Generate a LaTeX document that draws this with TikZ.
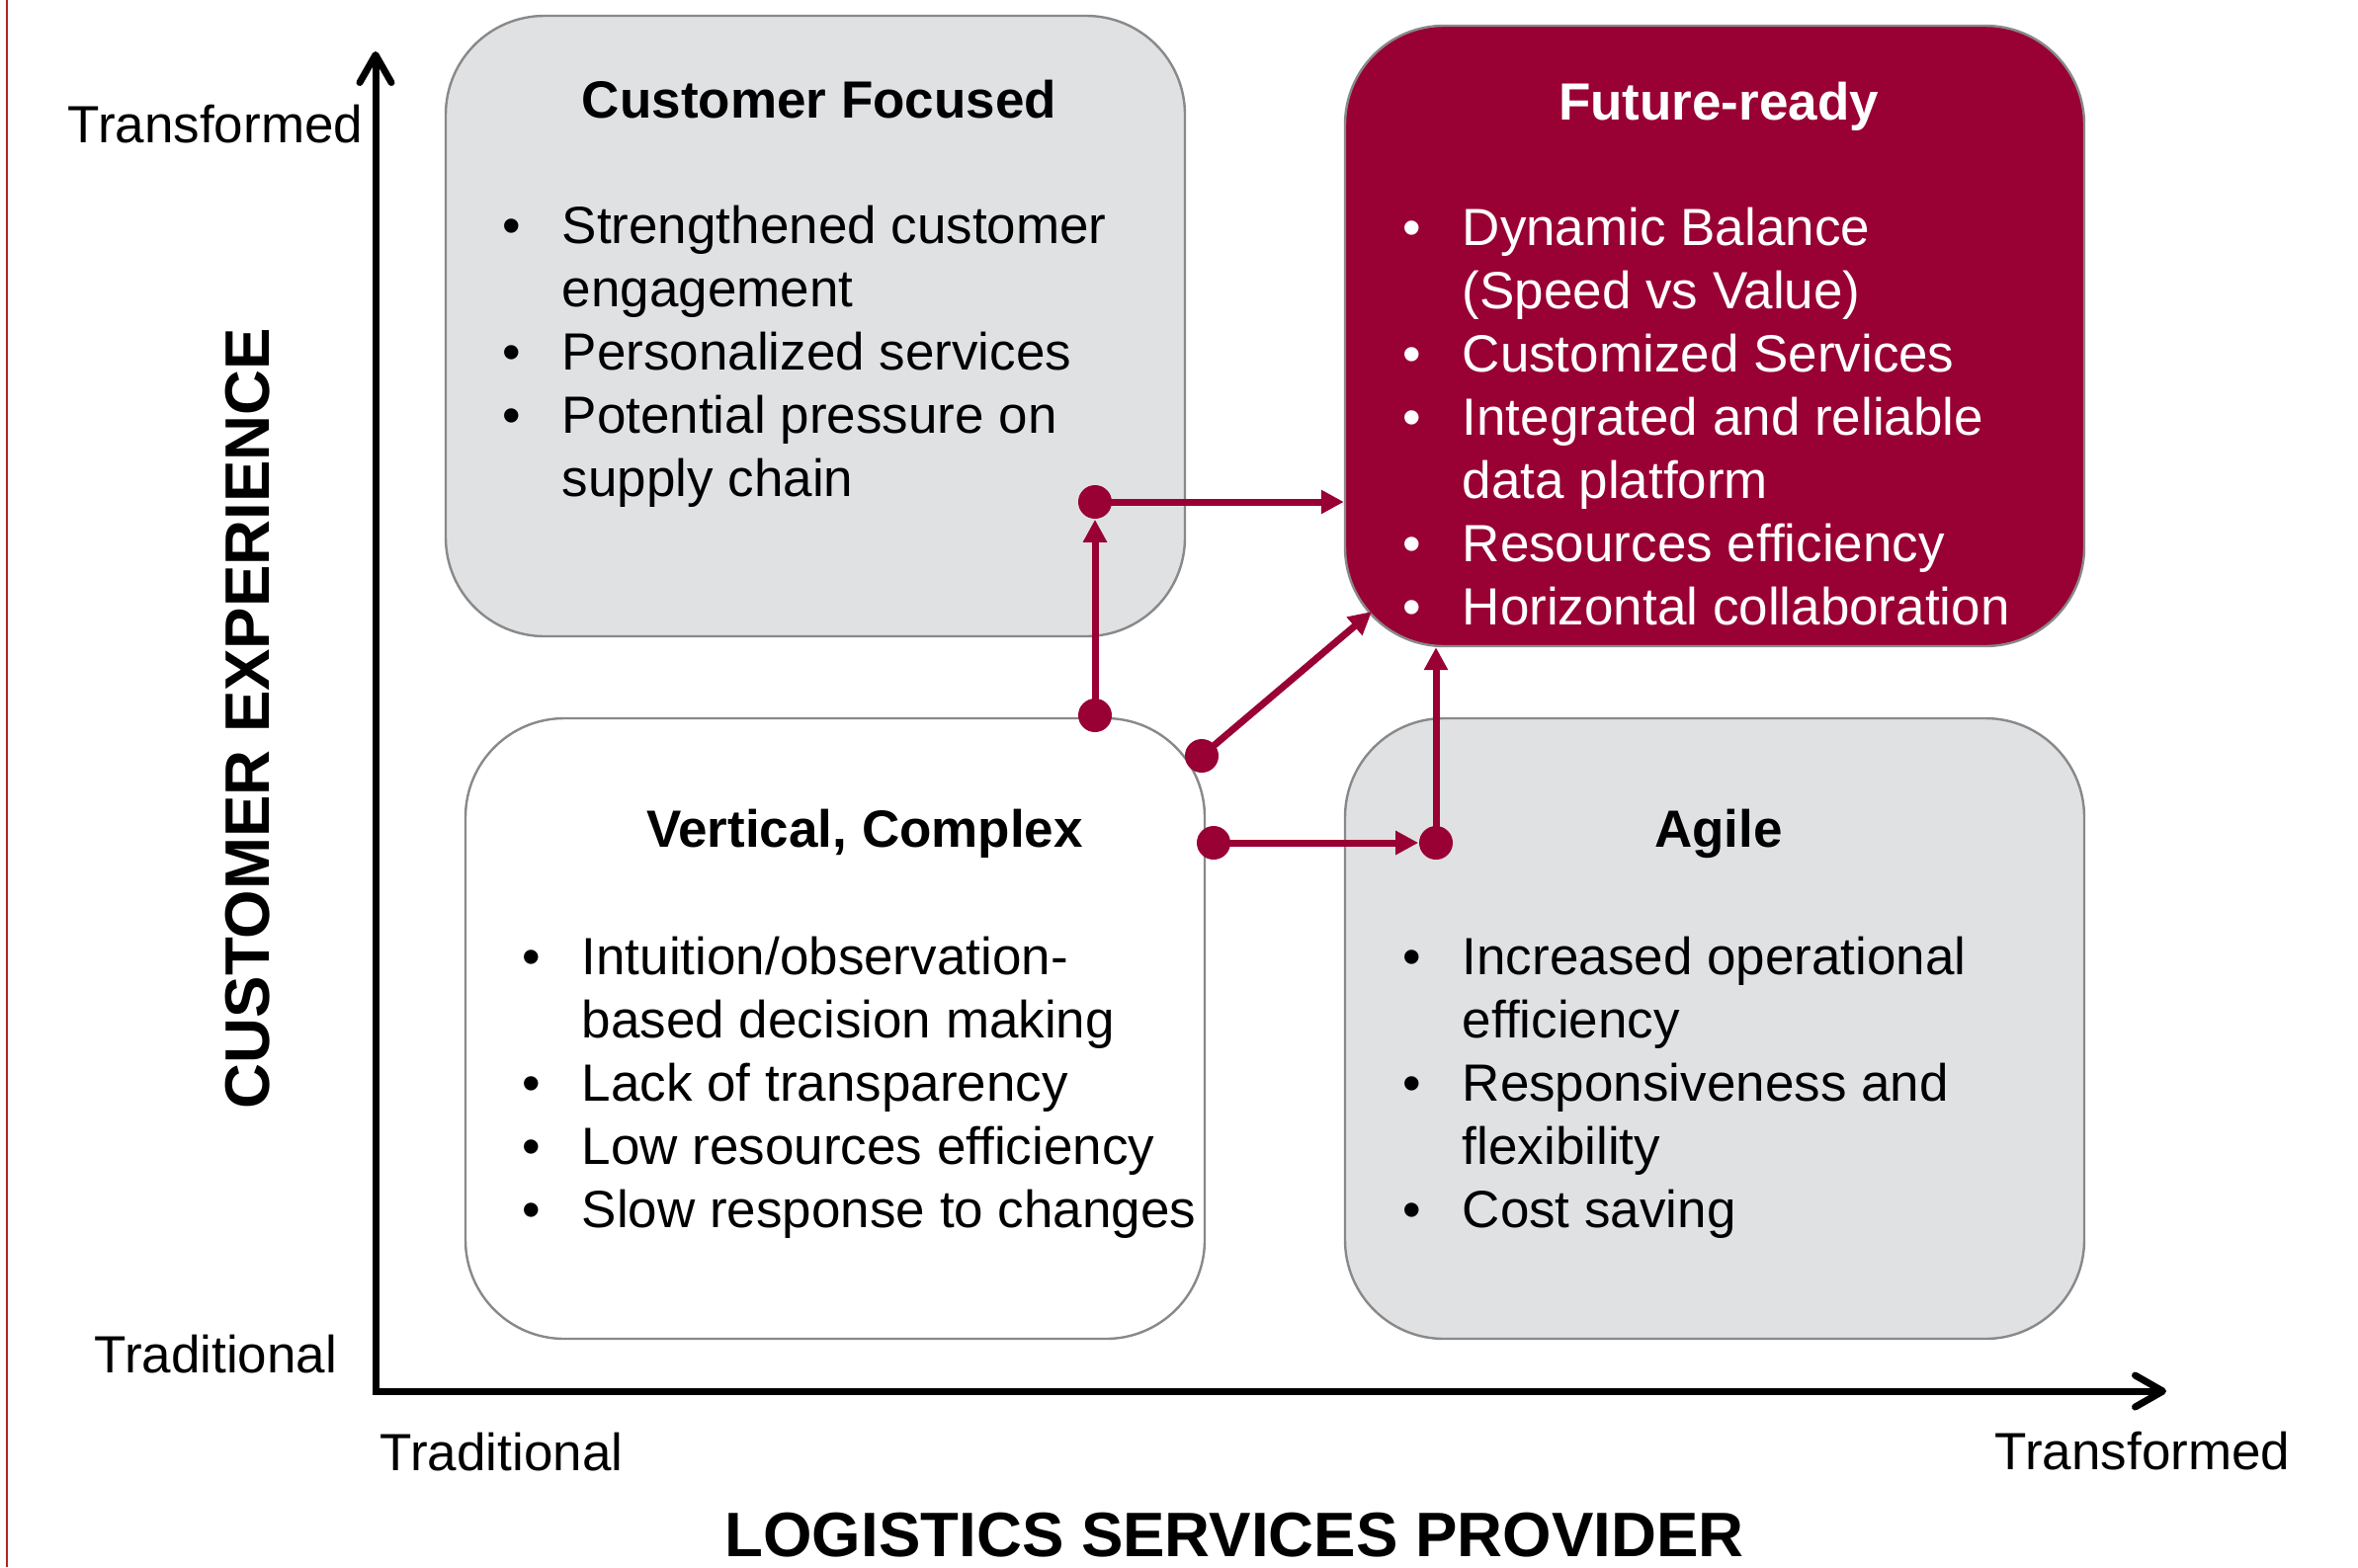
\documentclass[tikz,border=0pt]{standalone}
\usepackage{fontspec}
\setmainfont{Liberation Sans}
\usetikzlibrary{arrows.meta}
\definecolor{crim}{RGB}{153,0,51}
\definecolor{boxgray}{RGB}{224,225,227}
\definecolor{edgegray}{RGB}{137,137,137}
\definecolor{leftred}{RGB}{170,40,40}
\newcommand{\bl}{\makebox[15pt][l]{\textbullet}}
\begin{document}
\begin{tikzpicture}[x=0.25pt,y=-0.25pt,
  quad/.style={draw=edgegray, line width=0.6pt, rounded corners=25pt, inner sep=0pt,
    minimum width=187pt, minimum height=157pt},
  bodyfont/.style={font=\fontsize{13.25pt}{16pt}\selectfont},
  lbl/.style={bodyfont, inner sep=0pt},
  ttl/.style={font=\fontsize{13.25pt}{16pt}\selectfont\bfseries, inner sep=0pt, anchor=base},
  lst/.style={bodyfont, inner sep=0pt, anchor=base west},
  axtitle/.style={font=\fontsize{15.9pt}{19pt}\selectfont\bfseries, inner sep=0pt},
  axis/.style={line width=1.75pt, line join=miter,
    {Straight Barb[length=7pt,width=8pt,line cap=round,line join=round]}-{Straight Barb[length=7pt,width=8pt,line cap=round,line join=round]}},
  dot/.style={circle, fill=crim, inner sep=0pt, minimum size=8.5pt},
  conn/.style={crim, line width=1.75pt, -{Triangle[length=5.75pt,width=5.75pt]}}
]
\useasboundingbox (0,0) rectangle (2386,1586);
\fill[white] (0,0) rectangle (2386,1586);
\draw[leftred, line width=0.5pt] (7,0) -- (7,1586);

% quadrant boxes
\node[quad, fill=boxgray] (cf) at (825,330) {};
\node[quad, fill=crim] (fr) at (1735,340) {};
\node[quad, fill=white] (vc) at (845,1041) {};
\node[quad, fill=boxgray] (ag) at (1735,1041) {};

% axes
\coordinate (ytop) at (380,52);
\coordinate (O) at (380,1408);
\coordinate (xend) at (2192,1408);
\draw[axis] (ytop) -- (O) -- (xend);

% axis labels
\node[lbl, anchor=base east] (ytr) at (368,144) {Transformed};
\node[lbl, anchor=base east] (ytd) at (342,1389) {Traditional};
\node[lbl, anchor=base west] (xtd) at (384,1488) {Traditional};
\node[lbl, anchor=base west] (xtr) at (2018,1487) {Transformed};
\node[axtitle, anchor=base] (xlab) at (1249,1575) {LOGISTICS SERVICES PROVIDER};
\node[axtitle, rotate=90] (ylab) at (251,727) {CUSTOMER EXPERIENCE};

% titles
\node[ttl] (cft) at (829,119) {Customer Focused};
\node[ttl, text=white] (frt) at (1739,121) {Future-ready};
\node[ttl] (vct) at (875,857) {Vertical, Complex};
\node[ttl] (agt) at (1739,857) {Agile};

% lists
\node[lst] (cfl) at (508,246) {\begin{tabular}[t]{@{}l@{}l@{}}
\bl&Strengthened customer\\
&engagement\\
\bl&Personalized services\\
\bl&Potential pressure on\\
&supply chain
\end{tabular}};
\node[lst, text=white] (frl) at (1419,248) {\begin{tabular}[t]{@{}l@{}l@{}}
\bl&Dynamic Balance\\
&(Speed vs Value)\\
\bl&Customized Services\\
\bl&Integrated and reliable\\
&data platform\\
\bl&Resources efficiency\\
\bl&Horizontal collaboration
\end{tabular}};
\node[lst] (vcl) at (528,986) {\begin{tabular}[t]{@{}l@{}l@{}}
\bl&Intuition/observation-\\
&based decision making\\
\bl&Lack of transparency\\
\bl&Low resources efficiency\\
\bl&Slow response to changes
\end{tabular}};
\node[lst] (agl) at (1419,986) {\begin{tabular}[t]{@{}l@{}l@{}}
\bl&Increased operational\\
&efficiency\\
\bl&Responsiveness and\\
&flexibility\\
\bl&Cost saving
\end{tabular}};

% transition dots
\node[dot] (d1) at (1108,508) {};
\node[dot] (d2) at (1108,724) {};
\node[dot] (d3) at (1216,765) {};
\node[dot] (d4) at (1228,853) {};
\node[dot] (d5) at (1453,853) {};
\coordinate (t3) at (1388,619);

% connectors
\draw[conn] (d1.center) -- (d1 -| fr.west);
\draw[conn] (d2.center) -- (d1.south);
\draw[conn] (d3.center) -- (t3);
\draw[conn] (d4.center) -- (d5.west);
\draw[conn] (d5.center) -- (d5 |- fr.south);
\end{tikzpicture}
\end{document}
